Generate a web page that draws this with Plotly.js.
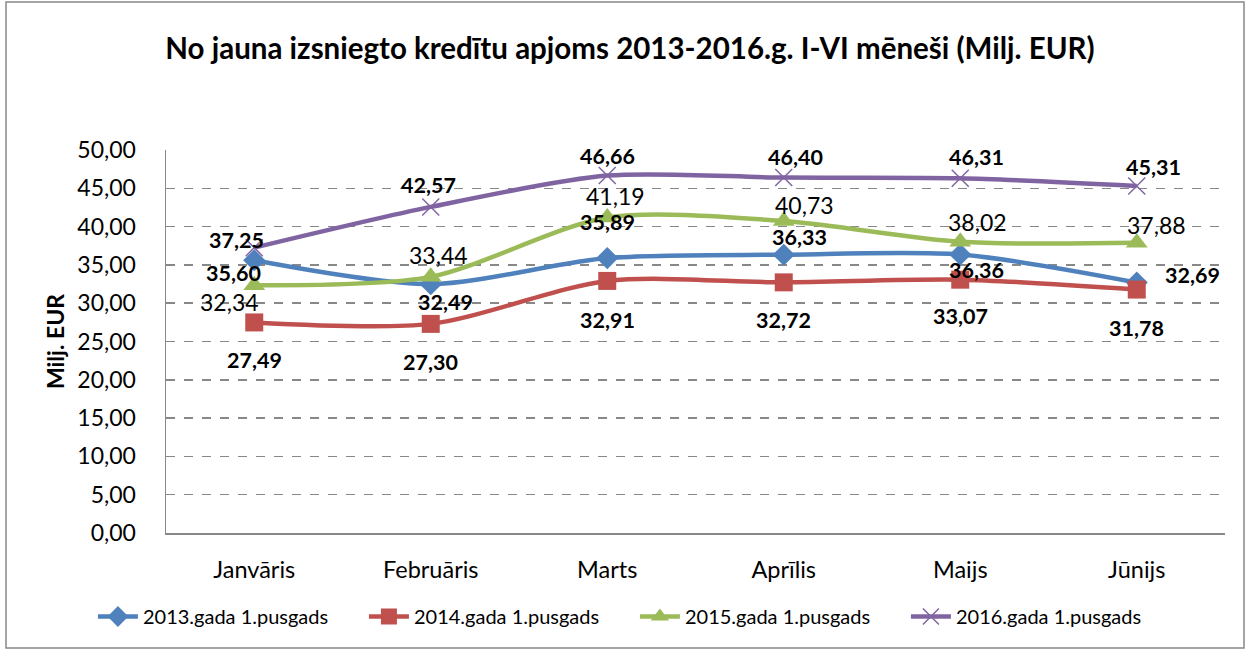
<!DOCTYPE html>
<html><head><meta charset="utf-8">
<script src="https://cdn.plot.ly/plotly-3.0.1.min.js"></script>
<style>body{margin:0;background:#fff}#c{width:1250px;height:652px}</style>
</head><body><div id="c"></div>
<script>
const months = ["Janvāris","Februāris","Marts","Aprīlis","Maijs","Jūnijs"];
const seriesNames = ["2013.gada 1.pusgads","2014.gada 1.pusgads","2015.gada 1.pusgads","2016.gada 1.pusgads"];
const v2013 = [35.60, 32.49, 35.89, 36.33, 36.36, 32.69];
const v2014 = [27.49, 27.30, 32.91, 32.72, 33.07, 31.78];
const v2015 = [32.34, 33.44, 41.19, 40.73, 38.02, 37.88];
const v2016 = [37.25, 42.57, 46.66, 46.40, 46.31, 45.31];
const yTicks = [0,5,10,15,20,25,30,35,40,45,50];

// label offsets in px (dx right, dy down) — styling only
const off2013 = [[-21,13],[15,18],[0,-36],[16,-18],[16,16],[56,-8]];
const off2014 = [[0,38],[0,38],[0,39],[0,38],[0,36],[0,38]];
const off2015 = [[-25,17],[8,-22],[8,-21],[21,-16],[17,-20],[20,-18]];
const off2016 = [[-18,-8],[-2,-22],[0,-20],[12,-21],[16,-21],[17,-19]];

const FONT = "Lato, 'Open Sans', sans-serif";
function tr(name, y, color, symbol, msize) {
  return {
    type: "scatter", mode: "lines+markers", name: name,
    x: months, y: y,
    line: {color: color, width: 4.5, shape: "spline", smoothing: 0.8},
    marker: {color: color, symbol: symbol, size: msize,
             line: {color: color, width: symbol === "x-thin" ? 1.5 : 0}},
    cliponaxis: false
  };
}
const data = [
  tr(seriesNames[0], v2013, "#4F81BD", "diamond", 17),
  tr(seriesNames[1], v2014, "#C0504D", "square", 18),
  tr(seriesNames[2], v2015, "#9BBB59", "triangle-up", 19),
  tr(seriesNames[3], v2016, "#8064A2", "x-thin", 17)
];
function labels(vals, offs, bold) {
  return vals.map((v, i) => ({
    x: months[i], y: v, xref: "x", yref: "y", showarrow: false,
    text: bold ? "<b>" + v.toFixed(2).replace(".", ",") + "</b>" : v.toFixed(2).replace(".", ","),
    xshift: offs[i][0], yshift: -offs[i][1],
    font: {family: FONT, size: bold ? 21.5 : 23, color: "#000"}
  }));
}
const annotations = [].concat(
  labels(v2013, off2013, true),
  labels(v2014, off2014, true),
  labels(v2015, off2015, false),
  labels(v2016, off2016, true)
);
const W = 1250, H = 652, mL = 166, mR = 25, mT = 150, mB = 119;
const pw = W - mL - mR, ph = H - mT - mB;
const layout = {
  width: W, height: H,
  margin: {l: mL, r: mR, t: mT, b: mB, autoexpand: false},
  separators: ",.",
  paper_bgcolor: "#fff", plot_bgcolor: "#fff",
  font: {family: FONT, color: "#000"},
  title: {text: "<b>No jauna izsniegto kredītu apjoms 2013-2016.g. I-VI mēneši (Milj. EUR)</b>",
          font: {family: FONT, size: 29.5, color: "#000"}, x: 0.504, xanchor: "center", y: 0.925, yanchor: "middle"},
  xaxis: {type: "category", range: [-0.5, 5.5], showgrid: false, zeroline: false,
          showline: true, linecolor: "#898989", linewidth: 1.5,
          ticks: "", tickfont: {family: FONT, size: 23.5, color: "#000"}, ticklabelstandoff: 15},
  yaxis: {range: [0, 50], tickvals: yTicks, tickformat: ".2f", showgrid: true,
          gridcolor: "#888", griddash: "dash", gridwidth: 1.5, zeroline: false,
          showline: true, linecolor: "#898989", linewidth: 1.5, ticks: "",
          tickfont: {family: FONT, size: 23, color: "#000"}, ticklabelstandoff: 24,
          title: {text: "<b>Milj. EUR</b>", font: {family: FONT, size: 23, color: "#000"}, standoff: 6}},
  legend: {orientation: "h", x: -0.069, xanchor: "left", y: -0.218, yanchor: "middle",
           font: {family: FONT, size: 20, color: "#000"}, itemwidth: 40,
           entrywidth: 216, entrywidthmode: "pixels", traceorder: "normal"},
  annotations: annotations,
  shapes: [{type: "rect", xref: "paper", yref: "paper",
            x0: (6 - mL) / pw, x1: (W - 6 - mL) / pw, y0: -(H - 4 - mT - ph) / ph, y1: 1 + (mT - 2) / ph,
            line: {color: "#888", width: 1.5}, fillcolor: "rgba(0,0,0,0)", layer: "below"}],
  showlegend: true
};
Plotly.newPlot("c", data, layout, {displayModeBar: false, staticPlot: true});
</script></body></html>
